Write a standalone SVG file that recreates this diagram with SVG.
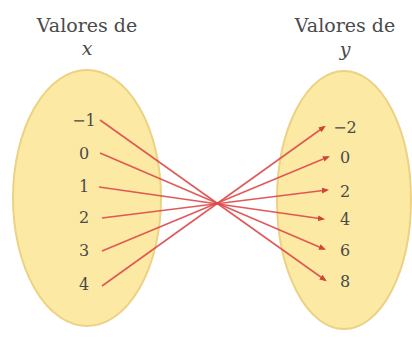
<svg xmlns="http://www.w3.org/2000/svg" width="412" height="339" viewBox="0 0 412 339">
<defs>
<style>
.set{fill:#fce9a4;stroke:#ecd282;stroke-width:2}
.t{font-family:"DejaVu Serif","Liberation Serif",serif;fill:#4a4a4a;font-size:19px;text-anchor:middle}
.n{font-family:"DejaVu Serif","Liberation Serif",serif;fill:#4a4a4a;font-size:16px;text-anchor:middle}
.c{stroke:#dc4a4a;stroke-width:1.6;fill:none;marker-end:url(#ah);opacity:0.9}
</style>
<marker id="ah" viewBox="0 0 10 10" refX="7" refY="5" markerWidth="4.5" markerHeight="4.5" orient="auto" markerUnits="strokeWidth">
<path d="M0,1 L10,5 L0,9 z" fill="#c8342a"/>
</marker>
</defs>
<g id="titleX">
<text class="t" x="87" y="32">Valores de</text>
<text class="t" x="87" y="55" font-style="italic">x</text>
</g>
<g id="titleY">
<text class="t" x="345" y="32">Valores de</text>
<text class="t" x="345" y="56" font-style="italic">y</text>
</g>
<g id="setX">
<ellipse class="set" cx="87" cy="198" rx="74" ry="128"/>
<text class="n" x="84" y="126">−1</text>
<text class="n" x="84" y="159">0</text>
<text class="n" x="84" y="192">1</text>
<text class="n" x="84" y="223">2</text>
<text class="n" x="84" y="256">3</text>
<text class="n" x="84" y="290">4</text>
</g>
<g id="setY">
<ellipse class="set" cx="344" cy="200" rx="67" ry="129"/>
<text class="n" x="345" y="133">−2</text>
<text class="n" x="345" y="163">0</text>
<text class="n" x="345" y="197">2</text>
<text class="n" x="345" y="225">4</text>
<text class="n" x="345" y="256">6</text>
<text class="n" x="345" y="287">8</text>
</g>
<g id="connectors">
<line class="c" x1="100" y1="120" x2="325" y2="280"/>
<line class="c" x1="100" y1="153" x2="324" y2="249"/>
<line class="c" x1="99" y1="187" x2="323" y2="219"/>
<line class="c" x1="102" y1="218" x2="327" y2="190"/>
<line class="c" x1="102" y1="251" x2="328" y2="157"/>
<line class="c" x1="102" y1="286" x2="324" y2="127"/>
</g>
</svg>
